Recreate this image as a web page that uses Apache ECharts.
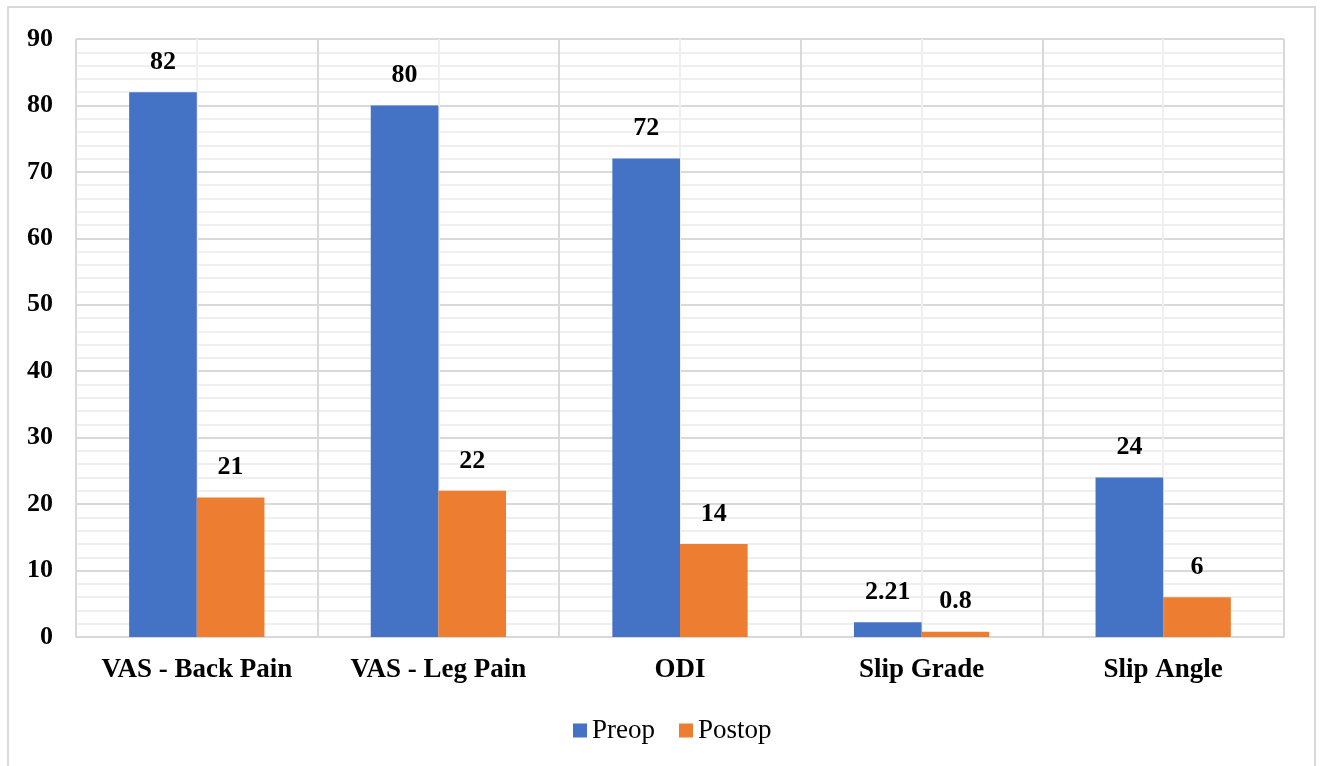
<!DOCTYPE html>
<html><head><meta charset="utf-8">
<script src="https://cdn.jsdelivr.net/npm/echarts@6/dist/echarts.min.js"></script>
<style>html,body{margin:0;padding:0;background:#fff;}#c{width:1320px;height:766px;}</style>
</head><body><div id="c"></div>
<script>
const categories = ['VAS - Back Pain', 'VAS - Leg Pain', 'ODI', 'Slip Grade', 'Slip Angle'];
const preop = [82, 80, 72, 2.21, 24];
const postop = [21, 22, 14, 0.8, 6];
const seriesNames = ['Preop', 'Postop'];
const yTicks = [0, 10, 20, 30, 40, 50, 60, 70, 80, 90];

const font = '"Liberation Serif", "Times New Roman", serif';
const chart = echarts.init(document.getElementById('c'), null, {renderer: 'canvas'});
const lbl = {show: true, position: 'top', distance: 17, fontFamily: font, fontWeight: 'bold', fontSize: 26, color: '#000'};
chart.setOption({
  animation: false,
  graphic: [{type: 'rect', shape: {x: 8, y: 7, width: 1307, height: 800}, style: {fill: 'none', stroke: '#d9d9d9', lineWidth: 2}, z: -10}],
  grid: {left: 76, right: 36, top: 39, bottom: 129, containLabel: false},
  legend: {
    data: seriesNames, top: 712, left: 568, itemWidth: 14, itemHeight: 14, itemGap: 24,
    icon: 'rect', textStyle: {fontFamily: font, fontSize: 27, color: '#000'}
  },
  xAxis: [{
    type: 'category', data: categories,
    axisLine: {lineStyle: {color: '#d9d9d9', width: 2}}, axisTick: {show: false},
    axisLabel: {interval: 0, hideOverlap: false, fontFamily: font, fontWeight: 'bold', fontSize: 27, color: '#000', margin: 20},
    splitLine: {show: true, interval: 0, lineStyle: {color: '#d9d9d9', width: 2}}, z: 3
  }, {
    type: 'value', min: 0, max: 10, interval: 1, show: true, position: 'top',
    axisLine: {show: false}, axisTick: {show: false}, axisLabel: {show: false},
    splitLine: {show: true, lineStyle: {color: '#efefef', width: 2}}
  }],
  yAxis: {
    type: 'value', min: yTicks[0], max: yTicks[yTicks.length - 1], interval: 10,
    axisLine: {show: false}, axisTick: {show: false},
    axisLabel: {fontFamily: font, fontWeight: 'bold', fontSize: 26, color: '#000', margin: 23},
    splitLine: {show: true, lineStyle: {color: '#d9d9d9', width: 2}},
    minorTick: {show: false, splitNumber: 5},
    minorSplitLine: {show: true, lineStyle: {color: '#efefef', width: 2}}
  },
  series: [
    {name: seriesNames[0], type: 'bar', data: preop, itemStyle: {color: '#4472C4'}, barGap: '0%', barCategoryGap: '44%', label: lbl, z: 5},
    {name: seriesNames[1], type: 'bar', data: postop, itemStyle: {color: '#ED7D31'}, barGap: '0%', barCategoryGap: '44%', label: lbl, z: 5}
  ]
});
</script></body></html>
